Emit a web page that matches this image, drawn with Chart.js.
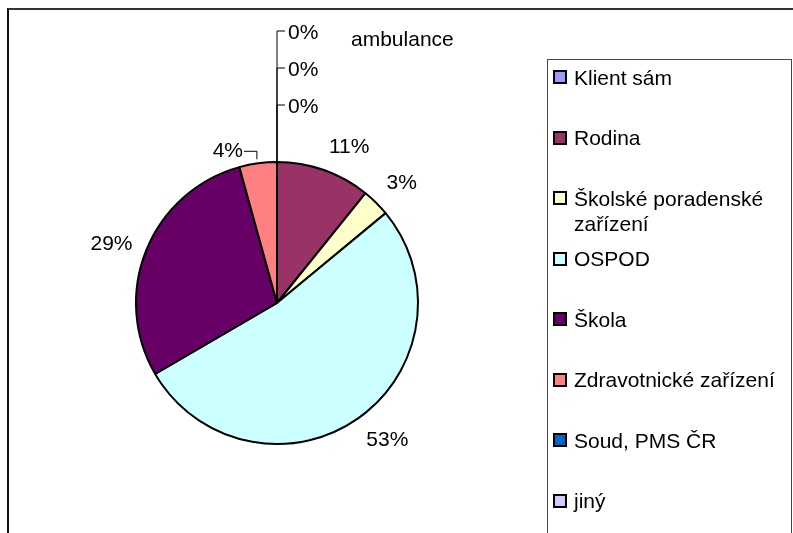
<!DOCTYPE html>
<html>
<head>
<meta charset="utf-8">
<script src="https://cdn.jsdelivr.net/npm/chart.js@4.4.1/dist/chart.umd.min.js"></script>
<style>
  html, body { margin: 0; padding: 0; background: #fff; overflow: hidden; }
  body { width: 793px; height: 533px; position: relative; font-family: "Liberation Sans", Arial, sans-serif; color: #000; }
  #frame { position: absolute; left: 7px; top: 8px; width: 820px; height: 560px; border-top: 2px solid #333; border-left: 2px solid #111; }
  #chart { position: absolute; left: 0; top: 0; }
  #title { position: absolute; left: 351px; top: 26px; font-size: 21px; line-height: 25px; }
  #legend { position: absolute; left: 547px; top: 59px; width: 245px; height: 520px; box-sizing: border-box;
            border: 1px solid #444; padding-top: 4.5px; }
  .item { display: flex; align-items: flex-start; height: 60.5px; }
  .swatch { flex: none; width: 14px; height: 14px; box-sizing: border-box; border: 2px solid #000; margin: 5.5px 7px 0 5px; }
  .label { font-size: 21px; line-height: 25px; padding-right: 4px; }
</style>
</head>
<body>
<div id="frame"></div>
<canvas id="chart" width="793" height="533"></canvas>
<div id="title">ambulance</div>
<div id="legend"></div>
<script>
const categories = ["Klient sám", "Rodina", "Školské poradenské zařízení", "OSPOD", "Škola", "Zdravotnické zařízení", "Soud, PMS ČR", "jiný"];
const shares = [0, 10.8, 3.2, 52.6, 29.1, 4.3, 0, 0];
const sliceColors = ["#9999FF", "#993366", "#FFFFCC", "#CCFFFF", "#660066", "#FF8080", "#0066CC", "#CCCCFF"];

// legend box on the right
const legend = document.getElementById('legend');
categories.forEach((name, i) => {
  const item = document.createElement('div');
  item.className = 'item';
  item.innerHTML = '<span class="swatch" style="background:' + sliceColors[i] + '"></span><span class="label">' + name + '</span>';
  legend.appendChild(item);
});

// percent labels outside the pie, 0% ones stacked above it with leader lines
const pieLabels = {
  id: 'pieLabels',
  afterDatasetsDraw(chart) {
    const ctx = chart.ctx;
    const arcs = chart.getDatasetMeta(0).data;
    const total = shares.reduce((a, b) => a + b, 0);
    ctx.save();
    ctx.font = '21px "Liberation Sans", Arial, sans-serif';
    ctx.fillStyle = '#000';
    ctx.strokeStyle = '#000';
    ctx.lineWidth = 1;
    ctx.textAlign = 'center';
    ctx.textBaseline = 'middle';
    let zeros = 0;
    arcs.forEach((arc, i) => {
      const { x, y, startAngle, endAngle, outerRadius } =
        arc.getProps(['x', 'y', 'startAngle', 'endAngle', 'outerRadius'], true);
      const r = outerRadius + 1;
      const text = Math.round(shares[i] / total * 100) + '%';
      const w = ctx.measureText(text).width;
      const h = 18;
      const top = y - r;

      if (shares[i] === 0) {
        const ly = top - 54 - zeros * 37;
        zeros++;
        ctx.beginPath();
        ctx.moveTo(x, top);
        ctx.lineTo(x, ly - 2);
        ctx.lineTo(x + 8, ly - 2);
        ctx.stroke();
        ctx.fillText(text, x + 11 + w / 2, ly);
        return;
      }

      const a = (startAngle + endAngle) / 2;
      const cos = Math.cos(a), sin = Math.sin(a);
      const ax = x + cos * (r + 14), ay = y + sin * (r + 14);
      let lx = ax + (Math.abs(cos) > 0.25 ? Math.sign(cos) * w / 2 : 0);
      let ly = ay + (Math.abs(sin) > 0.5 ? Math.sign(sin) * h / 2 : 0);

      // label sitting in the column of the 0% leaders gets moved aside
      if (sin < -0.9 && lx + w / 2 > x - 30 && lx - w / 2 < x + 40) {
        const px = x + cos * r, py = y + sin * r;
        lx = x - 34 - w / 2;
        ly = py - 11;
        ctx.beginPath();
        ctx.moveTo(lx + w / 2 + 1, ly);
        ctx.lineTo(px - 1, ly);
        ctx.lineTo(px - 1, py - 3);
        ctx.stroke();
      }
      ctx.fillText(text, lx, ly);
    });
    ctx.restore();
  }
};

new Chart(document.getElementById('chart'), {
  type: 'pie',
  data: {
    labels: categories,
    datasets: [{
      data: shares,
      backgroundColor: sliceColors,
      borderColor: '#000',
      borderWidth: 2
    }]
  },
  options: {
    responsive: false,
    animation: false,
    layout: { padding: { left: 135, right: 374, top: 161, bottom: 88 } },
    plugins: {
      legend: { display: false },
      tooltip: { enabled: false }
    }
  },
  plugins: [pieLabels]
});
</script>
</body>
</html>
